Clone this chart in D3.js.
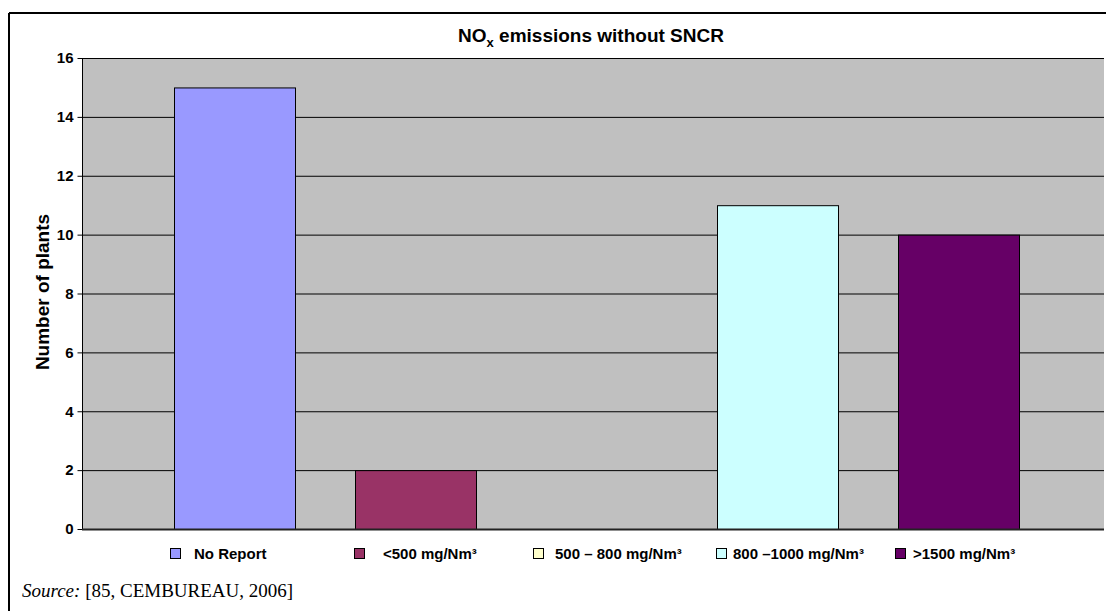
<!DOCTYPE html>
<html><head><meta charset="utf-8">
<script src="https://cdn.jsdelivr.net/npm/d3@7"></script>
<style>body{margin:0;background:#fff;} svg{display:block;}</style>
</head><body>
<script>
const series = ["No Report", "<500 mg/Nm³", "500 – 800 mg/Nm³", "800 –1000 mg/Nm³", ">1500 mg/Nm³"];
const values = [15, 2, 0, 11, 10];
const colors = ["#9999FF", "#993366", "#FFFFCC", "#CCFFFF", "#660066"];
const yTicks = [0, 2, 4, 6, 8, 10, 12, 14, 16];
// legend layout (swatch left edge, text left edge)
const legendSwatchX = [170, 354, 533, 716, 895];
const legendTextX = [194, 383, 555, 733, 913];

const W = 1106, H = 611;
const svg = d3.select("body").append("svg").attr("width", W).attr("height", H);
const SANS = "Liberation Sans, Arial, sans-serif";

// outer frame
svg.append("line").attr("x1", 9).attr("x2", W).attr("y1", 13).attr("y2", 13).attr("stroke", "#000").attr("stroke-width", 2);
svg.append("line").attr("x1", 9).attr("x2", 9).attr("y1", 13).attr("y2", H).attr("stroke", "#000").attr("stroke-width", 2);

const L = 82, R = 1104, T = 58, B = 529;
const x = d3.scaleBand().domain(series).range([L, R]).paddingInner(0.3315).paddingOuter(0.489).align(0.517);
const y = d3.scaleLinear().domain([0, 16]).range([B, T]);

svg.append("rect").attr("x", L).attr("y", T).attr("width", R - L).attr("height", B - T).attr("fill", "#C0C0C0");

// gridlines
svg.append("g").selectAll("line").data(yTicks.filter(d => d > 0)).join("line")
  .attr("x1", L).attr("x2", R).attr("y1", d => y(d) + 0.5).attr("y2", d => y(d) + 0.5)
  .attr("stroke", "#000").attr("stroke-width", 1);

// bars
svg.append("g").selectAll("rect").data(series.map((s, i) => ({s, v: values[i], c: colors[i]})).filter(d => d.v > 0)).join("rect")
  .attr("x", d => Math.round(x(d.s)) + 0.5).attr("y", d => y(d.v) + 0.5)
  .attr("width", Math.round(x.bandwidth())).attr("height", d => B - y(d.v))
  .attr("fill", d => d.c).attr("stroke", "#000").attr("stroke-width", 1);

// y axis
const ya = svg.append("g").attr("transform", `translate(${L + 0.5},0)`)
  .call(d3.axisLeft(y).tickValues(yTicks).tickSize(5).tickPadding(4).tickFormat(d3.format("d")));
ya.select(".domain").attr("stroke", "#000").attr("d", `M0,${T}V${B}`);
ya.selectAll("text").attr("font-family", SANS).attr("font-weight", "bold").attr("font-size", 15).attr("fill", "#000");
ya.selectAll(".tick line").attr("stroke", "#000");

// bottom axis line
svg.append("line").attr("x1", L).attr("x2", R).attr("y1", B + 0.5).attr("y2", B + 0.5).attr("stroke", "#222").attr("stroke-width", 2);

// title
const title = svg.append("text").attr("x", 591).attr("y", 42).attr("text-anchor", "middle")
  .attr("font-family", SANS).attr("font-weight", "bold").attr("font-size", 19).attr("fill", "#000");
title.append("tspan").text("NO");
title.append("tspan").attr("font-size", 13).attr("dy", 5).text("x");
title.append("tspan").attr("dy", -5).text(" emissions without SNCR");

// y label
svg.append("text").attr("transform", "translate(49,292) rotate(-90)").attr("text-anchor", "middle")
  .attr("font-family", SANS).attr("font-weight", "bold").attr("font-size", 19).attr("fill", "#000")
  .text("Number of plants");

// legend
const lg = svg.append("g").selectAll("g").data(series).join("g");
lg.append("rect").attr("x", (d, i) => legendSwatchX[i] + 0.5).attr("y", 548.5).attr("width", 10).attr("height", 10)
  .attr("fill", (d, i) => colors[i]).attr("stroke", "#000");
lg.append("text").attr("x", (d, i) => legendTextX[i]).attr("y", 559).text(d => d)
  .attr("font-family", SANS).attr("font-weight", "bold").attr("font-size", 15).attr("fill", "#000");

// source
const src = svg.append("text").attr("x", 22).attr("y", 597)
  .attr("font-family", "Liberation Serif, Times New Roman, serif").attr("font-size", 19).attr("fill", "#000");
src.append("tspan").attr("font-style", "italic").text("Source:");
src.append("tspan").text(" [85, CEMBUREAU, 2006]");
</script>
</body></html>
